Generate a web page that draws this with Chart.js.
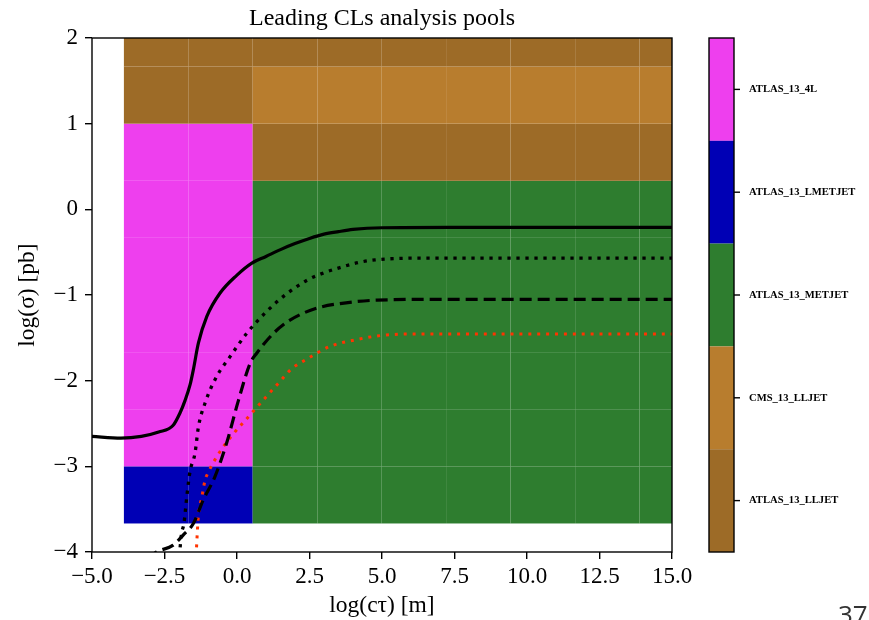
<!DOCTYPE html>
<html>
<head>
<meta charset="utf-8">
<script src="https://cdn.jsdelivr.net/npm/chart.js@4"></script>
<style>
  html, body { margin: 0; padding: 0; background: #fff; }
  canvas { display: block; }
</style>
</head>
<body>
<canvas id="poolChart" width="869" height="620"></canvas>
<script>
// analysis pools, colorbar order (top to bottom)
const poolNames = ['ATLAS_13_4L', 'ATLAS_13_LMETJET', 'ATLAS_13_METJET', 'CMS_13_LLJET', 'ATLAS_13_LLJET'];
const poolColors = ['#ee3fee', '#0000b5', '#2e7d2f', '#b87d2e', '#9d6b27'];

// scan grid edges, log(ctau) and log(sigma)
const cellXEdges = [-3.9, -1.68, 0.54, 2.77, 4.99, 7.21, 9.43, 11.66, 13.88, 16.1];
const cellYEdges = [-3.667, -3.0, -2.333, -1.667, -1.0, -0.333, 0.333, 1.0, 1.667, 2.333];

// leading pool per cell, rows from bottom to top
const poolGrid = [
  [1, 1, 2, 2, 2, 2, 2, 2, 2],
  [0, 0, 2, 2, 2, 2, 2, 2, 2],
  [0, 0, 2, 2, 2, 2, 2, 2, 2],
  [0, 0, 2, 2, 2, 2, 2, 2, 2],
  [0, 0, 2, 2, 2, 2, 2, 2, 2],
  [0, 0, 2, 2, 2, 2, 2, 2, 2],
  [0, 0, 4, 4, 4, 4, 4, 4, 4],
  [4, 4, 3, 3, 3, 3, 3, 3, 3],
  [4, 4, 4, 4, 4, 4, 4, 4, 4]
];

// exclusion contours
const solidX = [-5, -4, -3.3, -2.7, -2.2, -1.97, -1.79, -1.62, -1.51, -1.33, -1.04, -0.59, -0.01, 0.5, 1.0, 1.5, 2.0, 2.5, 3.0, 3.5, 4.0, 5.0, 7.3, 15];
const solidY = [-2.65, -2.67, -2.65, -2.60, -2.52, -2.38, -2.23, -2.05, -1.88, -1.56, -1.25, -0.98, -0.77, -0.63, -0.55, -0.47, -0.40, -0.34, -0.29, -0.26, -0.235, -0.215, -0.21, -0.21];

const dottedX = [-1.99, -1.91, -1.83, -1.73, -1.62, -1.45, -1.33, -1.1, -0.7, -0.24, 0.33, 0.97, 1.66, 2.4, 3.0, 3.55, 4.2, 4.76, 6.2, 15];
const dottedY = [-4.05, -3.78, -3.67, -3.35, -3.06, -2.85, -2.54, -2.26, -1.95, -1.72, -1.45, -1.21, -1.0, -0.83, -0.74, -0.68, -0.62, -0.59, -0.57, -0.57];

const dashedX = [-3.1, -2.77, -2.2, -1.85, -1.51, -1.16, -0.76, -0.36, 0.05, 0.45, 0.68, 1.25, 1.75, 2.3, 2.9, 3.55, 4.82, 7.3, 15];
const dashedY = [-4.08, -4.0, -3.92, -3.80, -3.67, -3.39, -3.12, -2.73, -2.23, -1.80, -1.68, -1.45, -1.31, -1.21, -1.14, -1.10, -1.06, -1.05, -1.05];

const redX = [-1.41, -1.37, -1.33, -1.22, -1.10, -0.99, -0.84, -0.53, -0.15, 0.24, 0.66, 1.08, 1.48, 1.89, 2.4, 3.21, 4.13, 5.05, 6.2, 15];
const redY = [-4.05, -3.78, -3.57, -3.37, -3.16, -3.07, -2.97, -2.80, -2.63, -2.48, -2.32, -2.16, -2.01, -1.86, -1.75, -1.60, -1.52, -1.47, -1.455, -1.455];

const serif = '"Liberation Serif", "DejaVu Serif", serif';
Chart.defaults.color = '#000';
Chart.defaults.font.family = serif;

function pts(xs, ys) {
  return xs.map((v, i) => ({x: v, y: ys[i]}));
}

function minus(v, digits) {
  const s = digits ? Math.abs(v).toFixed(digits) : String(Math.abs(v));
  return (v < 0 ? '\u2212' : '') + s;
}

const poolPlot = {
  id: 'poolPlot',
  beforeDraw(chart) {
    const ctx = chart.ctx;
    ctx.save();
    ctx.fillStyle = '#fff';
    ctx.fillRect(0, 0, chart.width, chart.height);
    ctx.restore();
  },
  beforeDatasetsDraw(chart) {
    const {ctx, chartArea: a, scales: {x, y}} = chart;
    ctx.save();
    ctx.beginPath();
    ctx.rect(a.left, a.top, a.right - a.left, a.bottom - a.top);
    ctx.clip();
    poolGrid.forEach((row, j) => {
      row.forEach((p, i) => {
        const x0 = x.getPixelForValue(cellXEdges[i]);
        const x1 = x.getPixelForValue(cellXEdges[i + 1]);
        const y0 = y.getPixelForValue(cellYEdges[j + 1]);
        const y1 = y.getPixelForValue(cellYEdges[j]);
        ctx.fillStyle = poolColors[p];
        ctx.fillRect(x0, y0, x1 - x0, y1 - y0);
      });
    });
    ctx.restore();
  },
  afterDatasetsDraw(chart) {
    const {ctx, chartArea: a} = chart;
    ctx.save();
    ctx.strokeStyle = '#000';
    ctx.lineWidth = 1.4;
    ctx.strokeRect(a.left, a.top, a.right - a.left, a.bottom - a.top);
    ctx.restore();
  },
  afterDraw(chart) {
    const {ctx, chartArea: a} = chart;
    // colorbar
    const bx = a.right + 37, bw = 25;
    const segH = (a.bottom - a.top) / poolNames.length;
    ctx.save();
    poolNames.forEach((name, k) => {
      const top = a.top + k * segH;
      ctx.fillStyle = poolColors[k];
      ctx.fillRect(bx, top, bw, segH);
      const cy = top + segH / 2;
      ctx.strokeStyle = '#000';
      ctx.lineWidth = 1.4;
      ctx.beginPath();
      ctx.moveTo(bx + bw, cy);
      ctx.lineTo(bx + bw + 6, cy);
      ctx.stroke();
      ctx.fillStyle = '#000';
      ctx.font = 'bold 10.6px ' + serif;
      ctx.textAlign = 'left';
      ctx.textBaseline = 'middle';
      ctx.fillText(name, bx + bw + 15, cy);
    });
    ctx.strokeStyle = '#000';
    ctx.lineWidth = 1.4;
    ctx.strokeRect(bx, a.top, bw, a.bottom - a.top);

    // slide number
    ctx.fillStyle = '#333';
    ctx.font = '26px "Open Sans", sans-serif';
    ctx.textAlign = 'left';
    ctx.textBaseline = 'alphabetic';
    ctx.fillText('37', 838, 624);
    ctx.restore();
  }
};

const lineBase = {
  showLine: true,
  pointRadius: 0,
  cubicInterpolationMode: 'monotone',
  fill: false,
  clip: 0,
  borderCapStyle: 'butt'
};

new Chart(document.getElementById('poolChart'), {
  type: 'scatter',
  data: {
    datasets: [
      Object.assign({}, lineBase, {data: pts(solidX, solidY), borderColor: '#000', borderWidth: 3.2}),
      Object.assign({}, lineBase, {data: pts(dottedX, dottedY), borderColor: '#000', borderWidth: 3.3, borderDash: [3.3, 5.7]}),
      Object.assign({}, lineBase, {data: pts(dashedX, dashedY), borderColor: '#000', borderWidth: 3.2, borderDash: [12, 6]}),
      Object.assign({}, lineBase, {data: pts(redX, redY), borderColor: '#ff3300', borderWidth: 3, borderDash: [3, 5.9]})
    ]
  },
  options: {
    responsive: false,
    animation: false,
    devicePixelRatio: 1,
    layout: {padding: {top: 0, right: 197, bottom: 0, left: 0}},
    plugins: {
      legend: {display: false},
      tooltip: {enabled: false},
      title: {
        display: true,
        fullSize: false,
        text: 'Leading CLs analysis pools',
        color: '#000',
        font: {family: serif, size: 24, weight: 'normal'},
        padding: {top: 4.8, bottom: 4.4}
      }
    },
    scales: {
      x: {
        type: 'linear',
        min: -5,
        max: 15,
        afterFit: s => { s.height = 68; },
        border: {display: false},
        grid: {drawOnChartArea: false, drawTicks: true, tickLength: 7, color: '#000', lineWidth: 1.4},
        ticks: {
          stepSize: 2.5,
          padding: 4,
          maxRotation: 0,
          font: {family: serif, size: 23},
          callback: v => minus(v, 1)
        },
        title: {
          display: true,
          text: 'log(c\u03c4) [m]',
          font: {family: serif, size: 23.5},
          padding: {top: 0, bottom: 0}
        }
      },
      y: {
        type: 'linear',
        min: -4,
        max: 2,
        afterFit: s => { s.width = 92; },
        border: {display: false},
        grid: {drawOnChartArea: false, drawTicks: true, tickLength: 7, color: '#000', lineWidth: 1.4},
        ticks: {
          stepSize: 1,
          padding: 7,
          font: {family: serif, size: 23},
          callback: v => minus(v, 0)
        },
        title: {
          display: true,
          text: 'log(\u03c3) [pb]',
          font: {family: serif, size: 23.5},
          padding: {top: 14, bottom: 0}
        }
      }
    }
  },
  plugins: [poolPlot]
});
</script>
</body>
</html>
